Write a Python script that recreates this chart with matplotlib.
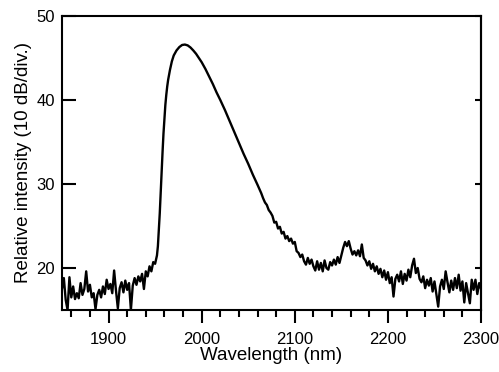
import numpy as np
import matplotlib
matplotlib.use("Agg")
import matplotlib.pyplot as plt

plt.rcParams['font.family'] = ['Liberation Sans', 'DejaVu Sans']

# Left noisy baseline (nm, step 2)
wl_left = list(range(1850, 1952, 2))
int_left = [17.5, 18.8, 16.2, 15.0, 18.9, 16.5, 17.8, 16.3, 17.0, 16.4,
            18.2, 16.8, 17.5, 19.6, 17.2, 18.0, 16.5, 17.0, 15.1, 16.8,
            17.4, 16.5, 17.8, 16.9, 18.6, 17.5, 18.1, 17.0, 19.7, 17.3,
            15.2, 17.6, 18.3, 17.1, 18.5, 17.4, 18.2, 15.0, 17.9, 18.8,
            18.0, 19.0, 18.4, 19.3, 17.5, 19.6, 19.0, 20.2, 19.6, 20.7,
            20.5]

# Main emission peak (smooth)
wl_peak = [1952, 1953, 1954, 1955, 1956, 1957, 1958, 1959, 1960, 1961,
           1962, 1963, 1964, 1966, 1968, 1970, 1973, 1976, 1979, 1982,
           1985, 1988, 1991, 1994, 1997, 2000, 2004, 2008, 2012, 2016,
           2020, 2025, 2030, 2035, 2040, 2045, 2050, 2055, 2060]
int_peak = [21.5, 22.6, 24.5, 26.5, 29.0, 31.5, 33.8, 36.0, 37.8, 39.4,
            40.6, 41.6, 42.4, 43.6, 44.6, 45.3, 45.9, 46.3, 46.55, 46.6,
            46.5, 46.25, 45.9, 45.5, 45.0, 44.5, 43.7, 42.8, 41.9, 40.9,
            40.0, 38.8, 37.5, 36.2, 34.9, 33.6, 32.4, 31.1, 29.9]

# Right tail with noise (nm, step 2)
wl_right = list(range(2064, 2302, 2))
int_right = [28.9, 28.3, 27.8, 27.5, 26.9, 26.6, 26.2, 25.4, 25.5, 24.7,
             24.9, 24.1, 24.3, 23.5, 23.8, 23.2, 23.5, 22.9, 23.1, 22.0,
             21.8, 21.3, 21.6, 20.8, 20.4, 21.2, 20.5, 21.0, 20.2, 19.7,
             20.8, 19.8, 20.6, 19.6, 20.9, 20.0, 19.8, 20.7, 20.3, 21.0,
             20.4, 21.3, 20.6, 21.5, 22.4, 23.1, 22.6, 23.2, 22.3, 21.6,
             22.0, 21.5, 22.1, 21.4, 22.8, 21.2, 20.9, 20.3, 20.8, 19.9,
             20.5, 19.6, 20.2, 19.3, 19.9, 18.9, 19.7, 18.6, 19.5, 18.2,
             18.9, 16.6, 18.7, 19.2, 18.4, 19.6, 18.1, 19.3, 18.5, 19.8,
             18.9, 20.3, 21.1, 19.4, 20.0, 18.7, 18.3, 19.0, 17.6, 18.6,
             17.9, 18.8, 17.2, 18.4, 16.9, 15.4, 17.8, 18.6, 17.5, 19.6,
             18.3, 17.1, 18.5, 17.4, 18.8, 17.6, 19.2, 17.3, 18.4, 15.9,
             18.2, 17.0, 15.8, 18.6, 17.4, 18.6, 16.9, 18.2, 17.5]

wavelength = np.array(wl_left + wl_peak + wl_right, dtype=float)
intensity = np.array(int_left + int_peak + int_right, dtype=float)

fig = plt.figure(figsize=(4.99, 3.72), dpi=100)
ax = fig.add_axes([0.1242, 0.1667, 0.8398, 0.7903])
ax.plot(wavelength, intensity, color='black', lw=1.7)

ax.set_xlim(1850, 2300)
ax.set_ylim(15, 50)
ax.set_xticks([1900, 2000, 2100, 2200, 2300])
ax.set_xticks(np.arange(1860, 2300, 20), minor=True)
ax.set_yticks([20, 30, 40, 50])

for s in ax.spines.values():
    s.set_linewidth(1.5)

ax.tick_params(axis='x', which='major', direction='out', length=9, width=1.5,
               labelsize=12, pad=7, top=False)
ax.tick_params(axis='x', which='minor', direction='out', length=5, width=1.5,
               top=False)
ax.tick_params(axis='y', which='major', direction='in', length=10, width=1.5,
               labelsize=12, pad=5, right=False)

sec = ax.secondary_yaxis('right')
sec.set_yticks([20, 30, 40, 50])
sec.tick_params(direction='in', length=4.5, width=1.5, labelright=False)
sec.spines['right'].set_linewidth(1.5)

ax.set_xlabel('Wavelength (nm)', fontsize=13.5, labelpad=0)
ax.set_ylabel('Relative intensity (10 dB/div.)', fontsize=13.5, labelpad=3)

fig.savefig('out.png', dpi=100)
